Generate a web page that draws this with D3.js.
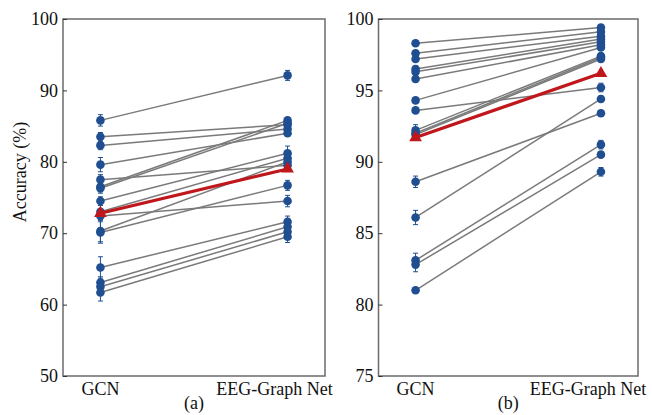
<!DOCTYPE html>
<html>
<head>
<meta charset="utf-8">
<script src="https://cdn.jsdelivr.net/npm/d3@7"></script>
<style>
  body { margin: 0; background: #fff; }
  svg text { font-family: "Liberation Serif", "Times New Roman", serif !important; }
</style>
</head>
<body>
<svg width="652" height="415"></svg>
<script>
const methods = ["GCN", "EEG-Graph Net"];

// panel (a): one entry per subject, GCN -> EEG-Graph Net
const gcnA    = [85.8, 83.5, 82.3, 79.6, 77.5, 76.5, 76.3, 74.5, 73.0, 72.4, 70.3, 70.1, 65.2, 63.1, 62.5, 61.7];
const gcnErrA = [0.8, 0.6, 0.6, 1.0, 0.7, 0.7, 0.7, 0.6, 0.9, 0.5, 1.5, 1.5, 1.5, 0.8, 0.8, 1.2];
const eegA    = [92.1, 85.2, 84.6, 84.0, 79.5, 85.8, 85.4, 81.2, 80.5, 74.5, 80.0, 76.7, 71.6, 70.9, 70.2, 69.5];
const eegErrA = [0.7, 0.4, 0.4, 0.4, 0.4, 0.4, 0.4, 1.0, 0.5, 0.8, 0.5, 0.7, 0.8, 0.6, 0.6, 0.8];
const meanA   = [72.8, 79.0];
const ticksA  = [50, 60, 70, 80, 90, 100];

// panel (b)
const gcnB    = [98.3, 97.6, 97.2, 96.5, 96.3, 95.8, 94.3, 93.6, 92.2, 92.0, 91.9, 88.6, 86.1, 83.1, 82.8, 81.0];
const gcnErrB = [0.2, 0.2, 0.2, 0.2, 0.2, 0.2, 0.2, 0.2, 0.4, 0.4, 0.4, 0.4, 0.5, 0.5, 0.5, 0.2];
const eegB    = [99.4, 99.1, 98.8, 98.6, 98.4, 98.2, 98.0, 95.2, 97.4, 97.3, 97.2, 93.4, 94.4, 91.2, 90.5, 89.3];
const eegErrB = [0.2, 0.2, 0.2, 0.2, 0.2, 0.2, 0.2, 0.3, 0.2, 0.2, 0.2, 0.2, 0.2, 0.3, 0.2, 0.3];
const meanB   = [91.7, 96.2];
const ticksB  = [75, 80, 85, 90, 95, 100];

const blue = "#1f4e91", red = "#c0171c", gray = "#7a7a7a";
const yTop = 19, yBottom = 376;

const svg = d3.select("svg");

function panel(o) {
  const x = d3.scalePoint().domain(methods).range([o.left, o.right]).padding(0.2);
  const y = d3.scaleLinear().domain(o.domain).range([yBottom, yTop]);
  const g = svg.append("g");

  const subj = d3.range(o.gcn.length).map(i => ({
    a: o.gcn[i], ae: o.gcnErr[i], b: o.eeg[i], be: o.eegErr[i]
  }));

  // connecting lines
  g.selectAll("line.subj").data(subj).join("line")
    .attr("class", "subj")
    .attr("x1", x(methods[0])).attr("y1", d => y(d.a))
    .attr("x2", x(methods[1])).attr("y2", d => y(d.b))
    .attr("stroke", gray).attr("stroke-width", 1.5);

  // error bars + dots for both methods
  const pts = subj.flatMap(d => [
    { m: methods[0], v: d.a, e: d.ae },
    { m: methods[1], v: d.b, e: d.be }
  ]);
  const eb = g.selectAll("g.eb").data(pts).join("g").attr("class", "eb")
    .attr("stroke", blue).attr("stroke-width", 1);
  eb.append("line")
    .attr("x1", d => x(d.m)).attr("x2", d => x(d.m))
    .attr("y1", d => y(d.v - d.e)).attr("y2", d => y(d.v + d.e));
  eb.append("line")
    .attr("x1", d => x(d.m) - 2.5).attr("x2", d => x(d.m) + 2.5)
    .attr("y1", d => y(d.v + d.e)).attr("y2", d => y(d.v + d.e));
  eb.append("line")
    .attr("x1", d => x(d.m) - 2.5).attr("x2", d => x(d.m) + 2.5)
    .attr("y1", d => y(d.v - d.e)).attr("y2", d => y(d.v - d.e));

  g.selectAll("circle").data(pts).join("circle")
    .attr("cx", d => x(d.m)).attr("cy", d => y(d.v))
    .attr("r", 4.3).attr("fill", blue);

  // mean line
  g.append("line")
    .attr("x1", x(methods[0])).attr("y1", y(o.mean[0]))
    .attr("x2", x(methods[1])).attr("y2", y(o.mean[1]))
    .attr("stroke", red).attr("stroke-width", 3.2);
  g.selectAll("path.tri").data(methods).join("path")
    .attr("class", "tri")
    .attr("transform", (m, i) => `translate(${x(m)},${y(o.mean[i])})`)
    .attr("d", d3.symbol(d3.symbolTriangle, 70))
    .attr("fill", red);

  // frame
  g.append("rect")
    .attr("x", o.left).attr("y", yTop)
    .attr("width", o.right - o.left).attr("height", yBottom - yTop)
    .attr("fill", "none").attr("stroke", "#6b6b6b").attr("stroke-width", 1.5);

  // y axis, ticks pointing inward
  const ax = g.append("g").attr("transform", `translate(${o.left},0)`)
    .call(d3.axisLeft(y).tickValues(o.ticks).tickSize(-4).tickPadding(5));
  ax.select(".domain").remove();
  ax.selectAll(".tick line").attr("stroke", "#333");
  ax.selectAll(".tick text").attr("font-size", 18).attr("fill", "#111");

  // category labels
  g.selectAll("text.cat").data(methods).join("text")
    .attr("class", "cat")
    .attr("x", (m, i) => x(m) - (i ? 13 : 0)).attr("y", 395)
    .attr("text-anchor", "middle").attr("font-size", 18).attr("fill", "#111")
    .text(m => m);

  g.append("text")
    .attr("x", (o.left + o.right) / 2).attr("y", 409)
    .attr("text-anchor", "middle").attr("font-size", 18).attr("fill", "#111")
    .text(o.tag);
}

panel({ left: 63, right: 325, domain: [50, 100], ticks: ticksA,
        gcn: gcnA, gcnErr: gcnErrA, eeg: eegA, eegErr: eegErrA, mean: meanA, tag: "(a)" });
panel({ left: 378.5, right: 638, domain: [75, 100], ticks: ticksB,
        gcn: gcnB, gcnErr: gcnErrB, eeg: eegB, eegErr: eegErrB, mean: meanB, tag: "(b)" });

svg.append("text")
  .attr("transform", "translate(26,172) rotate(-90)")
  .attr("text-anchor", "middle").attr("font-size", 18).attr("fill", "#111")
  .text("Accuracy (%)");
</script>
</body>
</html>
